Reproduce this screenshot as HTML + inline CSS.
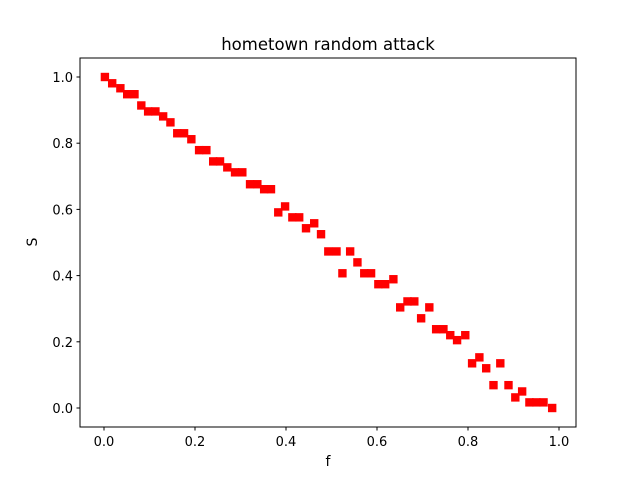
<!DOCTYPE html>
<html><head><meta charset="utf-8"><style>
html,body{margin:0;padding:0;background:#fff;}
svg{display:block;font-family:"DejaVu Sans","Liberation Sans",sans-serif;}
</style></head><body>
<svg id="chart" width="640" height="480">
<rect x="0" y="0" width="640" height="480" fill="#fff"/>
<text x="328" y="50" text-anchor="middle" font-size="16.5">hometown random attack</text>
<g id="marks"></g>
<g id="axes"></g>
<rect x="80" y="58" width="496" height="369" fill="none" stroke="#000" stroke-width="1"/>
<text x="328" y="466" text-anchor="middle" font-size="14">f</text>
<text x="37" y="242" text-anchor="middle" font-size="14" transform="rotate(-90 37 242)">S</text>
</svg>
<script>
const fVals = [0.002,0.018,0.036,0.051,0.067,0.082,0.097,0.113,0.130,0.146,0.161,0.176,0.192,0.209,0.225,0.240,0.255,0.271,0.288,0.304,0.321,0.337,0.352,0.367,0.383,0.398,0.414,0.429,0.444,0.462,0.477,0.493,0.511,0.524,0.541,0.557,0.572,0.587,0.603,0.618,0.636,0.651,0.667,0.682,0.697,0.715,0.730,0.746,0.761,0.776,0.794,0.809,0.825,0.840,0.856,0.871,0.889,0.904,0.919,0.935,0.950,0.966,0.985];
const sVals = [1.0,0.981,0.966,0.948,0.948,0.914,0.896,0.896,0.881,0.863,0.830,0.830,0.812,0.779,0.779,0.745,0.745,0.727,0.712,0.712,0.676,0.676,0.661,0.661,0.591,0.609,0.576,0.576,0.543,0.558,0.525,0.473,0.473,0.407,0.473,0.440,0.407,0.407,0.374,0.374,0.389,0.304,0.322,0.322,0.271,0.304,0.238,0.238,0.220,0.205,0.220,0.135,0.153,0.120,0.069,0.135,0.069,0.032,0.050,0.017,0.017,0.017,0.0];
const xTicks = [0.0,0.2,0.4,0.6,0.8,1.0];
const yTicks = [0.0,0.2,0.4,0.6,0.8,1.0];
const xTickLabels = ["0.0","0.2","0.4","0.6","0.8","1.0"];
const yTickLabels = ["0.0","0.2","0.4","0.6","0.8","1.0"];

const NS = "http://www.w3.org/2000/svg";
function xs(v){ return 104 + v*455; }
function ys(v){ return 408 - v*331; }

const marks = document.getElementById('marks');
for (let i=0;i<fVals.length;i++){
  const r = document.createElementNS(NS,'rect');
  r.setAttribute('x', xs(fVals[i])-4.2);
  r.setAttribute('y', ys(sVals[i])-4.2);
  r.setAttribute('width', 8.4);
  r.setAttribute('height', 8.4);
  r.setAttribute('fill', '#ff0000');
  
  
  marks.appendChild(r);
}
const axes = document.getElementById('axes');
for (let i=0;i<xTicks.length;i++){
  const x = xs(xTicks[i]);
  const l = document.createElementNS(NS,'line');
  l.setAttribute('x1',x); l.setAttribute('x2',x); l.setAttribute('y1',427); l.setAttribute('y2',430.5);
  l.setAttribute('stroke','#000');
  
  
  axes.appendChild(l);
  const t = document.createElementNS(NS,'text');
  t.setAttribute('x',x); t.setAttribute('y',446); t.setAttribute('text-anchor','middle'); t.setAttribute('font-size','13');
  t.textContent = xTickLabels[i];
  
  
  axes.appendChild(t);
}
for (let i=0;i<yTicks.length;i++){
  const y = ys(yTicks[i]);
  const l = document.createElementNS(NS,'line');
  l.setAttribute('x1',76.5); l.setAttribute('x2',80); l.setAttribute('y1',y); l.setAttribute('y2',y);
  l.setAttribute('stroke','#000');
  
  
  axes.appendChild(l);
  const t = document.createElementNS(NS,'text');
  t.setAttribute('x',73); t.setAttribute('y',y+5); t.setAttribute('text-anchor','end'); t.setAttribute('font-size','13');
  t.textContent = yTickLabels[i];
  
  
  axes.appendChild(t);
}
</script>
</body></html>
